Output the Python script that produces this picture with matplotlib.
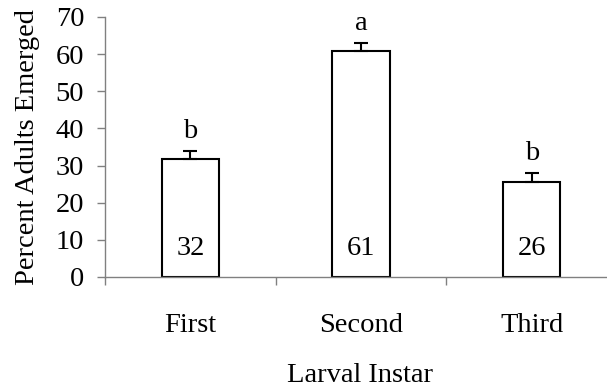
import matplotlib.pyplot as plt

# data
instars = ['First', 'Second', 'Third']
pct_emerged = [31.7, 60.8, 25.7]
pct_se = [2.1, 2.2, 2.3]
sig_letters = ['b', 'a', 'b']
bar_labels = ['32', '61', '26']

plt.rcParams['font.family'] = ['Liberation Serif', 'DejaVu Serif']
fs = 20.5

fig = plt.figure(figsize=(6.07, 3.87), dpi=100)
ax = fig.add_axes([105/607, 1 - 277/387, 512/607, 260/387])

xpos = [i + 0.5 for i in range(len(instars))]
ax.bar(xpos, pct_emerged, width=0.335, color='white', edgecolor='black',
       linewidth=1.5, zorder=2)
ax.errorbar(xpos, pct_emerged, yerr=[[0]*3, pct_se], fmt='none',
            ecolor='black', elinewidth=1.5, capsize=5, capthick=1.5, zorder=3)

for x, m, e, let, lab in zip(xpos, pct_emerged, pct_se, sig_letters, bar_labels):
    ax.text(x, m + e + 2.0, let, ha='center', va='bottom', fontsize=fs)
    ax.text(x, 6.0, lab, ha='center', va='baseline', fontsize=fs)

ax.set_xlim(0, 3)
ax.set_ylim(0, 70)
ax.set_yticks(range(0, 71, 10))
ax.set_xticks([0, 1, 2, 3])
ax.set_xticklabels([])
ax.set_xticks(xpos, minor=True)
ax.set_xticklabels(instars, minor=True)
ax.tick_params(axis='x', which='minor', length=0, pad=26, labelsize=fs)
ax.tick_params(axis='x', which='major', length=6, color='#808080', width=1)
ax.tick_params(axis='y', length=6, color='#808080', width=1, pad=9, labelsize=fs)

for s in ['top', 'right']:
    ax.spines[s].set_visible(False)
for s in ['left', 'bottom']:
    ax.spines[s].set_color('#808080')
    ax.spines[s].set_linewidth(1)

# x label placed by baseline so it sits low like the original
fig.text(360/607, 5/387, 'Larval Instar', ha='center', va='baseline', fontsize=fs)
ax.set_ylabel('Percent Adults Emerged', fontsize=fs, labelpad=11)

fig.savefig('out.png', dpi=100)
